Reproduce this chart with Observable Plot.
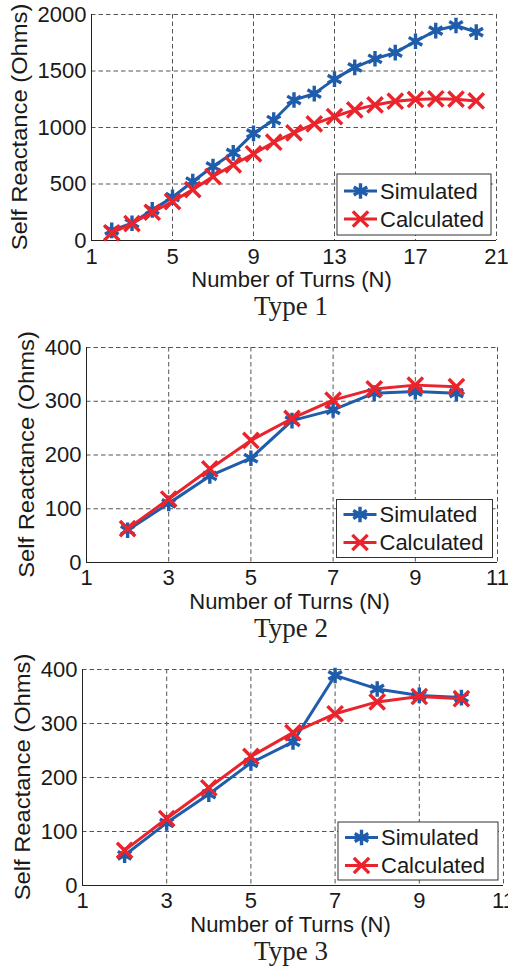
<!DOCTYPE html>
<html><head><meta charset="utf-8">
<script src="https://cdn.jsdelivr.net/npm/d3@7"></script>
<script src="https://cdn.jsdelivr.net/npm/@observablehq/plot@0.6"></script>
<style>
body{margin:0;background:#fff;width:508px;height:967px;overflow:hidden}
.cap{font-family:"Liberation Serif","Times New Roman",serif;font-size:27px;color:#222;width:508px;text-align:center;box-sizing:border-box;padding-left:74px;}
svg{display:block}
</style></head><body><div id="root"></div>
<script>
// ---- data ----
const turns1 = [2,3,4,5,6,7,8,9,10,11,12,13,14,15,16,17,18,19,20];
const sim1  = [90,153,271,383,522,655,776,948,1066,1243,1300,1428,1532,1608,1663,1763,1857,1903,1844];
const calc1 = [68,150,250,345,450,566,670,767,870,953,1032,1097,1156,1200,1233,1248,1254,1251,1235];

const turns23 = [2,3,4,5,6,7,8,9,10];
const sim2  = [60,110,161,194,264,284,315,318,315];
const calc2 = [63,118,174,227,268,302,323,330,327];
const sim3  = [56,116,169,227,266,389,364,352,348];
const calc3 = [65,124,181,239,283,318,340,350,346];

const xTicks1 = [1,5,9,13,17,21];
const xTicks23 = [1,3,5,7,9,11];
const yTicks1 = [0,500,1000,1500,2000];
const yTicks23 = [0,100,200,300,400];

const seriesNames = ["Simulated","Calculated"];
const captions = ["Type 1","Type 2","Type 3"];
const xLabel = "Number of Turns (N)";
const yLabel = "Self Reactance (Ohms)";

// ---- styles ----
const colors = ["#1f5dab","#ea242c"];
const symbols = ["asterisk","times"];
const d3symbols = [d3.symbolAsterisk, d3.symbolTimes];
const FONT = "'Liberation Sans', Arial, sans-serif";
const R = 7.4;

const panels = [
  {x: turns1, s: sim1, c: calc1, xt: xTicks1, yt: yTicks1, cap: captions[0],
   H: 292, mt: 14, mb: 52, ml: 91, mr: 12, xpad: 8, ylx: 19, capH: 28,
   legW: 154, legH: 61, legInset: 5, rows: [17, 45]},
  {x: turns23, s: sim2, c: calc2, xt: xTicks23, yt: yTicks23, cap: captions[1],
   H: 295, mt: 27, mb: 53, ml: 86, mr: 11, xpad: 7, ylx: 26, capH: 26,
   legW: 156, legH: 58, legInset: 4.5, rows: [15, 43]},
  {x: turns23, s: sim3, c: calc3, xt: xTicks23, yt: yTicks23, cap: captions[2],
   H: 297, mt: 28, mb: 53, ml: 82, mr: 5, xpad: 7, ylx: 22, capH: 26,
   legW: 160, legH: 58, legInset: 5, rows: [15.5, 43.5]}
];

const root = document.getElementById("root");

panels.forEach(p => {
  const sData = p.x.map((x, i) => ({x, y: p.s[i], k: seriesNames[0]}));
  const cData = p.x.map((x, i) => ({x, y: p.c[i], k: seriesNames[1]}));
  const xDom = [p.xt[0], p.xt[p.xt.length - 1]];
  const yDom = [p.yt[0], p.yt[p.yt.length - 1]];
  const plot = Plot.plot({
    width: 508, height: p.H,
    marginTop: p.mt, marginBottom: p.mb, marginLeft: p.ml, marginRight: p.mr,
    style: {fontFamily: FONT, fontSize: "22px", color: "#1a1a1a", background: "white", overflow: "hidden"},
    x: {domain: xDom, ticks: p.xt, label: null},
    y: {domain: yDom, ticks: p.yt, label: null},
    color: {domain: seriesNames, range: colors},
    symbol: {domain: seriesNames, range: symbols},
    marks: [
      Plot.gridX(p.xt, {stroke: "#555", strokeOpacity: 1, strokeWidth: 1, strokeDasharray: "4.5,3"}),
      Plot.gridY(p.yt, {stroke: "#555", strokeOpacity: 1, strokeWidth: 1, strokeDasharray: "4.5,3"}),
      Plot.ruleX([xDom[0]], {stroke: "#222", strokeWidth: 1}),
      Plot.ruleY([yDom[0]], {stroke: "#222", strokeWidth: 1}),
      Plot.axisX(p.xt, {tickSize: 0, tickPadding: p.xpad, label: null, fontSize: 22, tickFormat: d3.format("d")}),
      Plot.axisY(p.yt, {tickSize: 0, tickPadding: 5, label: null, fontSize: 22, tickFormat: d3.format("d")}),
      Plot.line(sData, {x: "x", y: "y", stroke: "k", strokeWidth: 3}),
      Plot.dot(sData, {x: "x", y: "y", stroke: "k", symbol: "k", r: R, strokeWidth: 3.4}),
      Plot.line(cData, {x: "x", y: "y", stroke: "k", strokeWidth: 3}),
      Plot.dot(cData, {x: "x", y: "y", stroke: "k", symbol: "k", r: R * 0.95, strokeWidth: 3.4})
    ]
  });
  const svg = d3.select(plot);
  const fLeft = p.ml, fRight = 508 - p.mr, fTop = p.mt, fBottom = p.H - p.mb;
  // axis labels
  svg.append("text")
    .attr("transform", `translate(${p.ylx},${(fTop + fBottom) / 2}) rotate(-90) scale(1.08,1)`)
    .attr("text-anchor", "middle").attr("dy", "0.36em")
    .attr("font-family", FONT).attr("font-size", 22).attr("fill", "#1a1a1a")
    .text(yLabel);
  svg.append("text")
    .attr("x", (fLeft + fRight) / 2 - 2).attr("y", fBottom + 39)
    .attr("text-anchor", "middle").attr("dy", "0.36em")
    .attr("font-family", FONT).attr("font-size", 22).attr("fill", "#1a1a1a")
    .text(xLabel);
  // legend
  const g = svg.append("g")
    .attr("transform", `translate(${fRight - p.legInset - p.legW},${fBottom - p.legInset - p.legH})`);
  g.append("rect").attr("width", p.legW).attr("height", p.legH)
    .attr("fill", "white").attr("stroke", "#333").attr("stroke-width", 1);
  seriesNames.forEach((name, i) => {
    const yy = p.rows[i];
    const rr = i === 0 ? R : R * 0.95;
    g.append("line").attr("x1", 7).attr("x2", 40).attr("y1", yy).attr("y2", yy)
      .attr("stroke", colors[i]).attr("stroke-width", 3);
    g.append("path").attr("d", d3.symbol(d3symbols[i], Math.PI * rr * rr)())
      .attr("transform", `translate(23.5,${yy})`)
      .attr("fill", "none").attr("stroke", colors[i]).attr("stroke-width", 3.4);
    g.append("text").attr("x", 43).attr("y", yy).attr("dy", "0.36em")
      .attr("text-anchor", "start")
      .attr("font-family", FONT).attr("font-size", 22).attr("fill", "#1a1a1a")
      .text(name);
  });
  root.appendChild(plot);
  const cap = document.createElement("div");
  cap.className = "cap";
  cap.style.height = p.capH + "px";
  cap.style.lineHeight = p.capH + "px";
  cap.textContent = p.cap;
  root.appendChild(cap);
});
</script>
</body></html>
